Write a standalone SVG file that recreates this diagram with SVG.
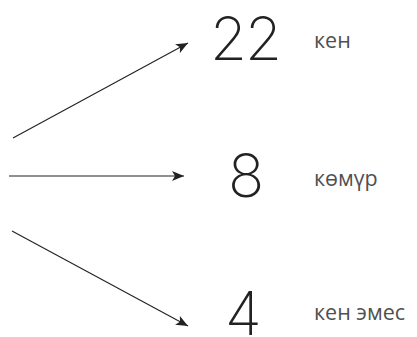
<svg xmlns="http://www.w3.org/2000/svg" width="417" height="337" viewBox="0 0 417 337">
<defs>
<style>
.num{font-family:Inter,"Noto Sans","DejaVu Sans",sans-serif;font-weight:250;font-size:60px;fill:#222}
.lbl{font-family:"Open Sans","Noto Sans",sans-serif;font-size:21.5px;fill:#505050}
.edge{stroke:#222;stroke-width:1.1;fill:none;marker-end:url(#ah)}
</style>
<marker id="ah" markerWidth="14" markerHeight="10" refX="12" refY="5" orient="auto" markerUnits="userSpaceOnUse">
<path d="M0,0 L12,5 L0,10 L3,5 Z" fill="#222"/>
</marker>
</defs>
<rect width="417" height="337" fill="#fff"/>
<g id="connectors">
<line class="edge" x1="13" y1="138" x2="188" y2="43"/>
<line class="edge" x1="9" y1="176" x2="184" y2="176"/>
<line class="edge" x1="12" y1="231" x2="188" y2="326"/>
</g>
<g id="node-22"><text class="num" x="210" y="60" letter-spacing="-2">22</text><text class="lbl" x="314" y="48">кен</text></g>
<g id="node-8"><text class="num" x="228" y="197">8</text><text class="lbl" x="314" y="186">көмүр</text></g>
<g id="node-4"><text class="num" x="225" y="335">4</text><text class="lbl" x="314" y="320">кен эмес</text></g>
</svg>
